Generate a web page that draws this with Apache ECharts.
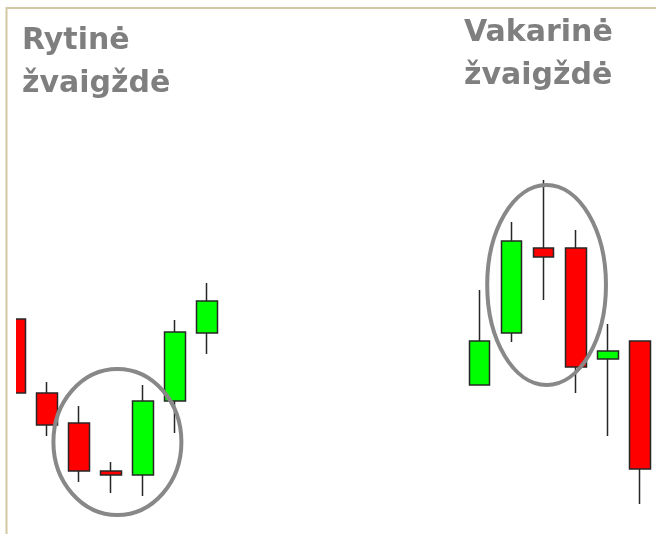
<!DOCTYPE html>
<html>
<head>
<meta charset="utf-8">
<script src="https://cdn.jsdelivr.net/npm/echarts@6/dist/echarts.min.js"></script>
<style>
    html, body { margin: 0; padding: 0; background: #ffffff; }
    #main { width: 656px; height: 534px; }
</style>
</head>
<body>
<div id="main"></div>
<script>
// rytinė žvaigždė (morning star) - [open, close, low, high]
let leftDays = ['1', '2', '3', '4', '5', '6', '7'];
let leftCandles = [
    [211, 137, 137, 211],
    [137, 105, 94, 148],
    [107, 59, 48, 124],
    [59, 55, 37, 68],
    [55, 129, 34, 145],
    [129, 198, 97, 210],
    [197, 229, 176, 247]
];
// vakarinė žvaigždė (evening star)
let rightDays = ['1', '2', '3', '4', '5', '6'];
let rightCandles = [
    [145, 189, 145, 240],
    [197, 289, 188, 308],
    [282, 273, 230, 350],
    [282, 163, 137, 300],
    [171, 179, 94, 206],
    [189, 61, 26, 189]
];
let titles = ['Rytinė\nžvaigždė', 'Vakarinė\nžvaigždė'];
// circled star patterns: center (category index, value) and radii
let leftRing = { x: 3.2, y: 88, rx: 2.0, ry: 73 };
let rightRing = { x: 2.09, y: 245, rx: 1.85, ry: 100 };

const chart = echarts.init(document.getElementById('main'), null, {
    renderer: 'canvas'
});

const titleStyle = {
    color: '#7f7f7f',
    fontSize: 30,
    fontWeight: 'bold',
    fontFamily: 'DejaVu Sans',
    lineHeight: 43
};

const candleStyle = {
    color: '#00ff00',
    color0: '#ff0000',
    borderColor: '#262626',
    borderColor0: '#262626',
    borderWidth: 1.5
};

function yAxisFor(idx) {
    return {
        type: 'value',
        gridIndex: idx,
        min: 0,
        max: 380,
        show: false,
        splitLine: { show: false }
    };
}

var option = {
    backgroundColor: '#ffffff',
    animation: false,
    title: [{
        text: titles[0],
        left: 22,
        top: 20,
        padding: 0,
        textStyle: titleStyle
    }, {
        text: titles[1],
        left: 464,
        top: 12,
        padding: 0,
        textStyle: titleStyle
    }],
    grid: [{
        left: 15,
        top: 150,
        width: 224,
        height: 380
    }, {
        left: 479.5,
        top: 150,
        width: 160.5,
        height: 380
    }],
    xAxis: [{
        type: 'category',
        gridIndex: 0,
        data: leftDays,
        boundaryGap: false,
        max: leftDays.length,
        show: false
    }, {
        type: 'category',
        gridIndex: 1,
        data: rightDays,
        boundaryGap: false,
        show: false
    }],
    yAxis: [yAxisFor(0), yAxisFor(1)],
    series: [{
        type: 'candlestick',
        xAxisIndex: 0,
        yAxisIndex: 0,
        barWidth: 21,
        itemStyle: candleStyle,
        data: leftCandles
    }, {
        type: 'candlestick',
        xAxisIndex: 1,
        yAxisIndex: 1,
        barWidth: 21,
        clip: false,
        itemStyle: candleStyle,
        data: rightCandles
    }]
};

chart.setOption(option);

// category axis rounds to whole indices, so step between two of them
function ringShape(ring, gridIdx) {
    const p0 = chart.convertToPixel({ gridIndex: gridIdx }, [0, ring.y]);
    const p1 = chart.convertToPixel({ gridIndex: gridIdx }, [1, ring.y + ring.ry]);
    const step = p1[0] - p0[0];
    return {
        cx: p0[0] + ring.x * step,
        cy: p0[1],
        rx: ring.rx * step,
        ry: Math.abs(p0[1] - p1[1])
    };
}

const ringStyle = { fill: 'none', stroke: '#888888', lineWidth: 4 };
const frameStyle = { stroke: '#d2c9a0', lineWidth: 2 };
const gridLeft = chart.convertToPixel({ gridIndex: 0 }, [0, 0]);

chart.setOption({
    graphic: [{
        // the first candle is cut off at the left edge of the picture
        type: 'rect',
        z: 90,
        shape: { x: 0, y: 150, width: gridLeft[0] + 1, height: 384 },
        style: { fill: '#ffffff' }
    }, {
        type: 'ellipse',
        z: 100,
        shape: ringShape(leftRing, 0),
        style: ringStyle
    }, {
        type: 'ellipse',
        z: 100,
        shape: ringShape(rightRing, 1),
        style: ringStyle
    }, {
        type: 'line',
        z: 100,
        shape: { x1: 6.5, y1: 7, x2: 6.5, y2: 534 },
        style: frameStyle
    }, {
        type: 'line',
        z: 100,
        shape: { x1: 6, y1: 8, x2: 656, y2: 8 },
        style: frameStyle
    }]
});
</script>
</body>
</html>
